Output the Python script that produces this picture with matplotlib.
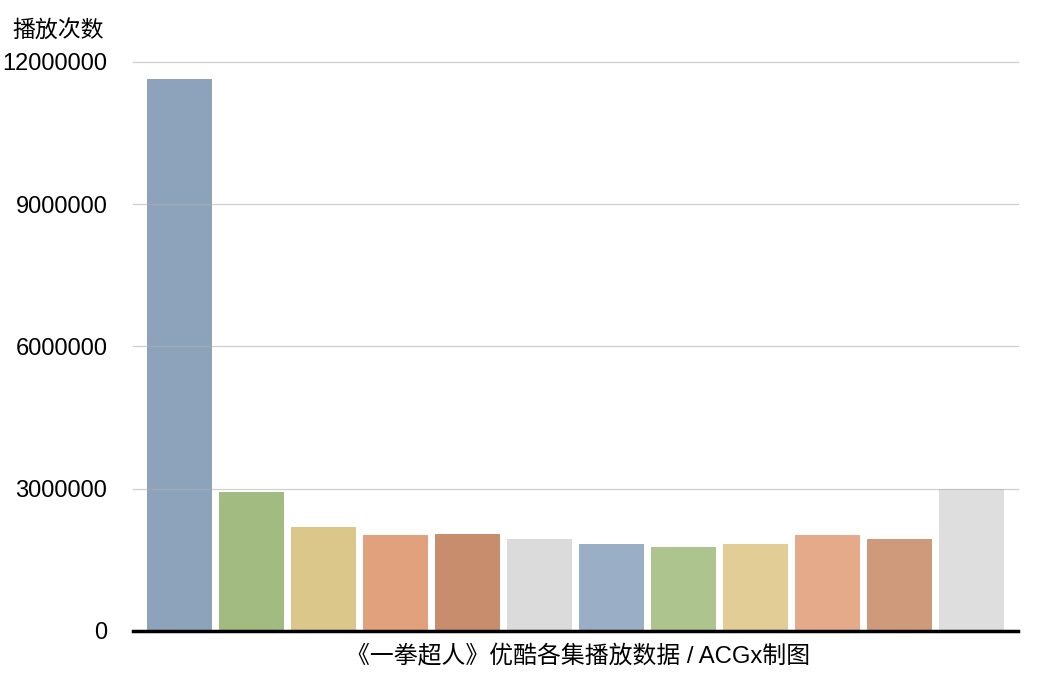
import matplotlib
matplotlib.use("Agg")
import matplotlib.pyplot as plt

episodes = list(range(1, 13))
plays = [11650000, 2920000, 2180000, 2020000, 2040000, 1930000,
         1830000, 1760000, 1830000, 2020000, 1930000, 3000000]
colors = ['#8da3bb', '#a1bb81', '#dbc789', '#e1a17c', '#c88d6c', '#dbdbdb',
          '#9aaec5', '#adc48f', '#e1cd95', '#e4aa89', '#cf9a7b', '#dedede']
yticks = [0, 3000000, 6000000, 9000000, 12000000]

fig = plt.figure(figsize=(10.41, 6.78), dpi=100)
ax = fig.add_axes([133/1041, 1 - 630.7/678, (1018-133)/1041, (630.7-62)/678])

x = list(range(len(episodes)))
ax.bar(x, plays, width=0.9, color=colors, zorder=1)

ax.set_xlim(-0.644, 11.644)
ax.set_ylim(0, 12000000)
ax.set_yticks(yticks)
ax.set_yticklabels([str(v) for v in yticks], family=['Liberation Sans'], fontsize=17)
ax.set_xticks([])
ax.tick_params(axis='y', length=0, pad=18.5)
for yv in yticks[1:]:
    ax.axhline(yv, color='#b0b0b0', lw=0.9, alpha=0.6, zorder=3, clip_on=False)

for s in ['top', 'right', 'left']:
    ax.spines[s].set_visible(False)
ax.spines['bottom'].set_linewidth(2.5)
ax.spines['bottom'].set_color('black')
ax.spines['bottom'].set_zorder(4)

fig.text(58/1041, 1 - 31/678, '播放次数', ha='center', va='center',
         fontsize=16.5, family=['Noto Sans CJK SC', 'DejaVu Sans'])
fig.text(578/1041, 1 - 657/678, '《一拳超人》优酷各集播放数据 / ACGx制图',
         ha='center', va='center', fontsize=17.2,
         family=['Liberation Sans', 'Noto Sans CJK SC'])

fig.savefig('out.png', dpi=100)
